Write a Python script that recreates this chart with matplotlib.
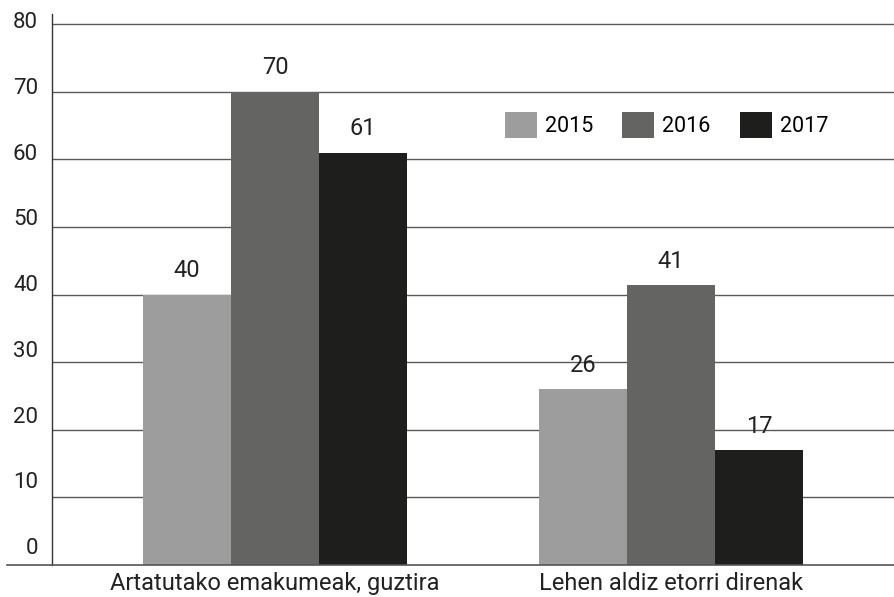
import matplotlib
matplotlib.use("Agg")
import matplotlib.pyplot as plt
import numpy as np
from matplotlib.patches import Patch

categories = ["Artatutako emakumeak, guztira", "Lehen aldiz etorri direnak"]
years = ["2015", "2016", "2017"]
values_2015 = [40, 26]
values_2016 = [70, 41.4]
values_2017 = [61, 17]
y_ticks = [0, 10, 20, 30, 40, 50, 60, 70, 80]

colors = ["#9d9d9d", "#646462", "#1e1e1c"]
series = [values_2015, values_2016, values_2017]

plt.rcParams['font.family'] = ['Roboto', 'DejaVu Sans']
fs = 17

fig = plt.figure(figsize=(8.94, 5.97), dpi=100)
ax = fig.add_axes([52/894, 32/597, 842/894, 551/597])

x = np.arange(len(categories))
w = 0.222
for i, (vals, c) in enumerate(zip(series, colors)):
    bars = ax.bar(x + (i - 1) * w, vals, width=w, color=c, zorder=2)
    for b, v in zip(bars, vals):
        ax.annotate(f"{v:.0f}", (b.get_x() + b.get_width() / 2, b.get_height()),
                    xytext=(0, 9), textcoords="offset points", ha="center", va="bottom",
                    fontsize=fs, color="#222222", zorder=4)

for t in y_ticks[1:]:
    ax.axhline(t, color="#5a5a5a", lw=1, zorder=1)

ax.set_xlim(-0.563, 1.563)
ax.set_ylim(0, 81.5)
label_pos = [2.81 + 0.9725 * t for t in y_ticks]
ax.set_yticks(label_pos)
ax.set_yticklabels([str(t) for t in y_ticks], fontsize=16, color="#222222")
ax.tick_params(axis="y", length=0, pad=10)
ax.set_xticks(x)
ax.set_xticklabels(categories, fontsize=fs, color="#222222")
ax.tick_params(axis="x", length=0, pad=5)

for s in ["top", "right", "bottom"]:
    ax.spines[s].set_visible(False)
ax.spines["left"].set_color("#333333")
ax.spines["left"].set_linewidth(1)
ax.plot([-45/842, 1], [0, 0], transform=ax.transAxes, clip_on=False, color="#555555", lw=1.2, zorder=3)

handles = [Patch(facecolor=c, edgecolor="none") for c in colors]
ax.legend(handles, years, loc="center left", bbox_to_anchor=(0.538, 0.799), ncol=3,
          frameon=False, fontsize=15.5, handlelength=1.49, handleheight=1.49,
          handletextpad=0.37, columnspacing=1.35, borderpad=0, borderaxespad=0)

fig.savefig("out.png", dpi=100)
